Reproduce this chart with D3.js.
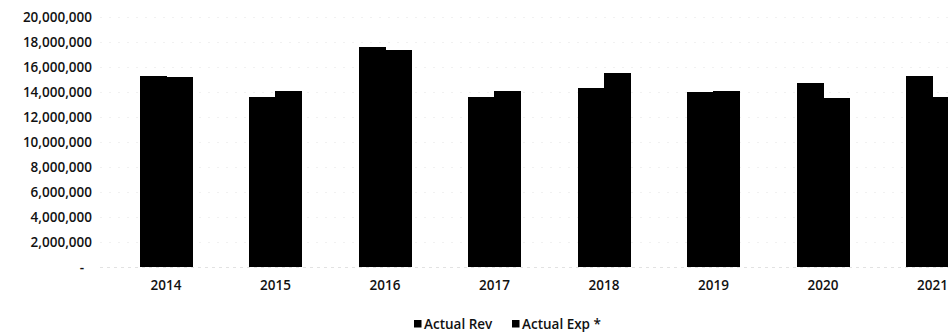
<!DOCTYPE html>
<html>
<head>
<meta charset="utf-8">
<script src="https://cdn.jsdelivr.net/npm/d3@7"></script>
<style>
 body { margin: 0; background: #fff; }
 text { font-family: "Open Sans", "Noto Sans", sans-serif; }
</style>
</head>
<body>
<div id="chart"></div>
<script>
// data
const years = ["2014", "2015", "2016", "2017", "2018", "2019", "2020", "2021"];
const actualRev = [15260000, 13550000, 17550000, 13550000, 14320000, 14000000, 14670000, 15260000];
const actualExp = [15200000, 14060000, 17340000, 14060000, 15520000, 14080000, 13470000, 13550000];
const seriesNames = ["Actual Rev", "Actual Exp *"];
const yTicks = [0, 2000000, 4000000, 6000000, 8000000, 10000000, 12000000, 14000000, 16000000, 18000000, 20000000];

const width = 948, height = 333;

const svg = d3.select("#chart")
 .append("svg")
  .attr("width", width)
  .attr("height", height);

// x: one band per year, the plot runs past the right edge like the source
const x = d3.scaleBand()
  .domain(years)
  .range([111.25, 111.25 + 109.5 * years.length])
  .paddingInner(0.525)
  .paddingOuter(0.2625);

const x1 = d3.scaleBand()
  .domain(seriesNames)
  .range([0, x.bandwidth()]);

const y = d3.scaleLinear()
  .domain([0, 20000000])
  .range([266.7, 16.7]);

// very faint gridlines (almost lost in the scan)
svg.append("g")
  .selectAll("line")
  .data(yTicks.slice(1))
  .join("line")
   .attr("x1", 100)
   .attr("x2", width)
   .attr("y1", d => Math.round(y(d)) + 0.5)
   .attr("y2", d => Math.round(y(d)) + 0.5)
   .attr("stroke", "#f1f1f1")
   .attr("stroke-dasharray", "2,7");

svg.append("line")
  .attr("x1", 100).attr("x2", width)
  .attr("y1", Math.round(y(0)) + 0.5).attr("y2", Math.round(y(0)) + 0.5)
  .attr("stroke", "#e2e2e2")
  .attr("stroke-dasharray", "3,4");

// Y axis labels
const fmt = d => d === 0 ? "-" : d3.format(",")(d);
const yAxis = svg.append("g")
  .attr("transform", "translate(96,0)")
  .call(d3.axisLeft(y).tickValues(yTicks).tickFormat(fmt).tickSize(0).tickPadding(4));
yAxis.select(".domain").remove();
yAxis.selectAll("text")
  .attr("font-family", "Open Sans, Noto Sans, sans-serif")
  .attr("font-size", 13.5)
  .attr("font-weight", 600)
  .attr("fill", "#111");
yAxis.selectAll(".tick").filter(d => d === 0).select("text").attr("dx", -8);

// X axis labels
const xAxis = svg.append("g")
  .attr("transform", `translate(0, ${y(0)})`)
  .call(d3.axisBottom(x).tickSize(0).tickPadding(14));
xAxis.select(".domain").remove();
xAxis.selectAll("text")
  .attr("font-family", "Open Sans, Noto Sans, sans-serif")
  .attr("font-size", 13.5)
  .attr("font-weight", 600)
  .attr("fill", "#111");

// bars
const rows = years.map((yr, i) => ({year: yr, values: [
  {name: seriesNames[0], value: actualRev[i]},
  {name: seriesNames[1], value: actualExp[i]}
]}));

svg.append("g")
  .attr("shape-rendering", "crispEdges")
  .selectAll("g")
  .data(rows)
  .join("g")
   .attr("transform", d => `translate(${Math.round(x(d.year))},0)`)
  .selectAll("rect")
  .data(d => d.values)
  .join("rect")
   .attr("x", d => Math.round(x1(d.name)))
   .attr("y", d => y(d.value))
   .attr("width", Math.round(x1.bandwidth()) + 0.5)
   .attr("height", d => y(0) - y(d.value))
   .attr("fill", "#000");

// legend
const legendX = [414, 512];
const legend = svg.append("g")
  .selectAll("g")
  .data(seriesNames)
  .join("g")
   .attr("transform", (d, i) => `translate(${legendX[i]}, 320)`);
legend.append("rect")
  .attr("width", 7.5)
  .attr("height", 7.5)
  .attr("y", 0)
  .attr("fill", "#000");
legend.append("text")
  .attr("x", 10)
  .attr("y", 8.5)
  .attr("font-size", 13.5)
  .attr("font-weight", 600)
  .attr("fill", "#111")
  .text(d => d);
</script>
</body>
</html>
